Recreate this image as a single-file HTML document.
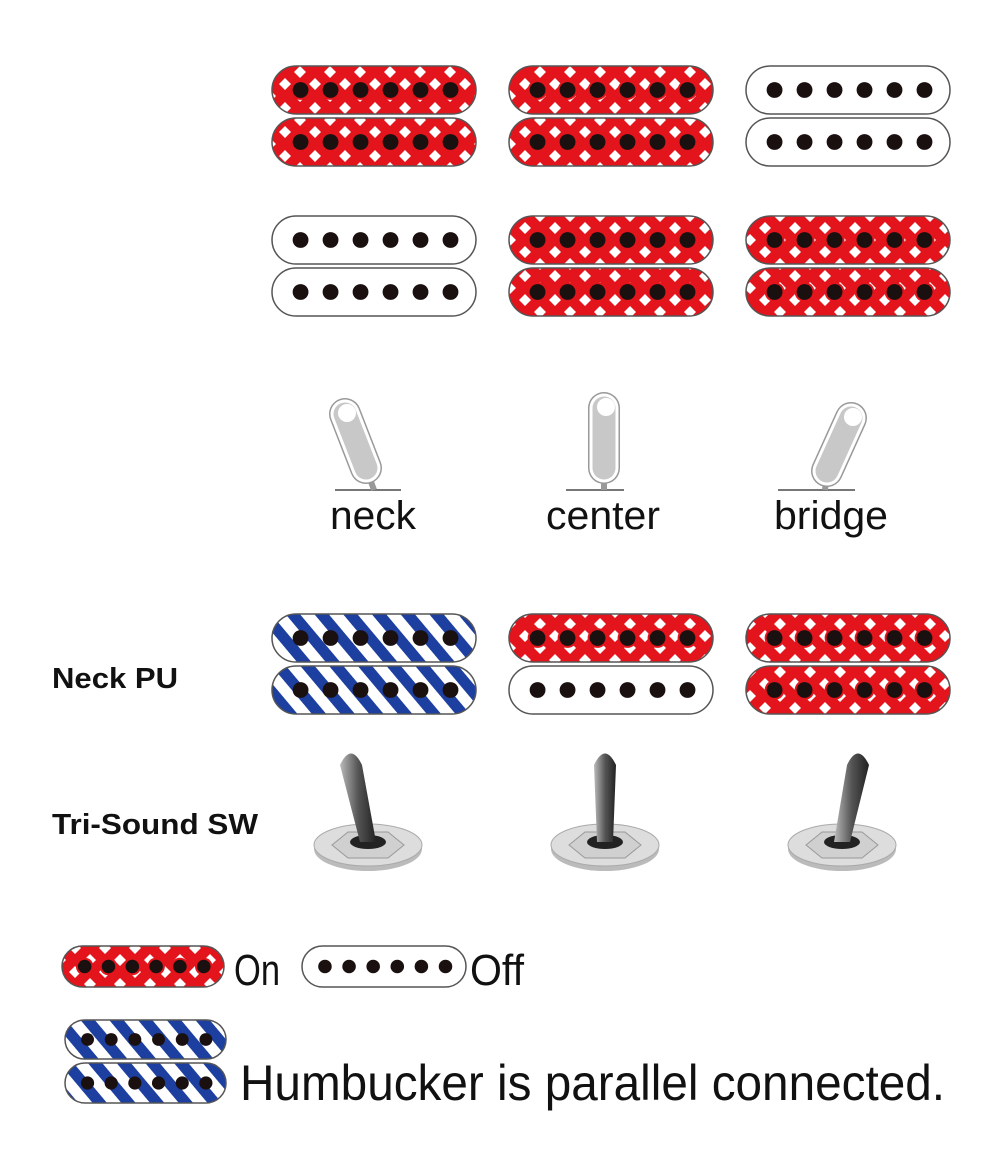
<!DOCTYPE html>
<html><head><meta charset="utf-8">
<style>
html,body{margin:0;padding:0;background:#fff;}
svg{display:block}
text{font-family:"Liberation Sans Narrow","Liberation Sans",sans-serif;fill:#111;}
</style></head>
<body>
<svg id="s" width="1004" height="1170" viewBox="0 0 1004 1170" xmlns="http://www.w3.org/2000/svg">
<defs>
<pattern id="red" patternUnits="userSpaceOnUse" width="30" height="24" x="0" y="0">
<rect width="30" height="24" fill="#e3141b"/>
<path d="M0 -6 L6 0 L0 6 L-6 0Z M30 -6 L36 0 L30 6 L24 0Z M0 18 L6 24 L0 30 L-6 24Z M30 18 L36 24 L30 30 L24 24Z M15 6 L21 12 L15 18 L9 12Z" fill="#fff"/>
</pattern>
<pattern id="blue" patternUnits="userSpaceOnUse" width="22" height="22" patternTransform="rotate(-40)">
<rect width="22" height="22" fill="#fff"/>
<rect width="11" height="22" fill="#1d3fa0"/>
</pattern>
<linearGradient id="lev" x1="0" x2="1" y1="0" y2="0">
<stop offset="0" stop-color="#bbb"/><stop offset="0.5" stop-color="#555"/><stop offset="1" stop-color="#222"/>
</linearGradient>
</defs>
<g id="g"></g>
<text x="330" y="529" font-size="40" textLength="86" lengthAdjust="spacingAndGlyphs">neck</text>
<text x="546" y="529" font-size="40" textLength="114" lengthAdjust="spacingAndGlyphs">center</text>
<text x="774" y="529" font-size="40" textLength="114" lengthAdjust="spacingAndGlyphs">bridge</text>
<text x="52" y="688" font-size="29" font-weight="bold" textLength="126" lengthAdjust="spacingAndGlyphs">Neck PU</text>
<text x="52" y="834" font-size="29" font-weight="bold" textLength="206" lengthAdjust="spacingAndGlyphs">Tri-Sound SW</text>
<text x="234" y="985" font-size="44" textLength="46" lengthAdjust="spacingAndGlyphs">On</text>
<text x="470" y="985" font-size="44" textLength="54" lengthAdjust="spacingAndGlyphs">Off</text>
<text x="240" y="1100" font-size="50" textLength="705" lengthAdjust="spacingAndGlyphs">Humbucker is parallel connected.</text>
</svg>
<script>
var g=document.getElementById('g'),h='';
function coil(x,y,w,hh,t){
  var r=hh/2,f=t=='r'?'url(#red)':t=='b'?'url(#blue)':'#fff';
  h+='<rect x="'+x+'" y="'+y+'" width="'+w+'" height="'+hh+'" rx="'+r+'" fill="'+f+'" stroke="#555" stroke-width="1.5"/>';
  var sp=w*0.147,st=x+w*0.14,dr=hh*0.165;
  for(var i=0;i<6;i++){var cx=st+i*sp;
    if(t=='r')h+='<circle cx="'+cx+'" cy="'+(y+r)+'" r="'+(dr+2)+'" fill="#e3141b"/>';
    h+='<circle cx="'+cx+'" cy="'+(y+r)+'" r="'+dr+'" fill="#1a1010"/>';}
}
function hb(x,y,t1,t2){coil(x,y,204,48,t1);coil(x,y+52,204,48,t2);}
var X=[272,509,746];
hb(X[0],66,'r','r');hb(X[1],66,'r','r');hb(X[2],66,'w','w');
hb(X[0],216,'w','w');hb(X[1],216,'r','r');hb(X[2],216,'r','r');
hb(X[0],614,'b','b');hb(X[1],614,'r','w');hb(X[2],614,'r','r');
coil(62,946,162,41,'r');coil(302,946,164,41,'w');
coil(65,1020,161,39,'b');coil(65,1063,161,40,'b');
function tog(bx,lx,x1,y1,x2,y2){
  h+='<line x1="'+lx[0]+'" y1="490" x2="'+lx[1]+'" y2="490" stroke="#777" stroke-width="2"/>';
  h+='<line x1="'+bx+'" y1="490" x2="'+x2+'" y2="'+y2+'" stroke="#999" stroke-width="6"/>';
  h+='<line x1="'+x1+'" y1="'+y1+'" x2="'+x2+'" y2="'+y2+'" stroke="#999" stroke-width="32" stroke-linecap="round"/>';
  h+='<line x1="'+x1+'" y1="'+y1+'" x2="'+x2+'" y2="'+y2+'" stroke="#fff" stroke-width="29" stroke-linecap="round"/>';
  h+='<line x1="'+x1+'" y1="'+y1+'" x2="'+x2+'" y2="'+y2+'" stroke="#c8c8c8" stroke-width="23" stroke-linecap="round"/>';
  h+='<circle cx="'+(x1+2)+'" cy="'+(y1-1)+'" r="9" fill="#fff"/>';
}
tog(374,[335,401],345,414,366,468);
tog(604,[566,624],604,408,604,468);
tog(825,[778,855],851,418,827,471);
function bs(cx,tx){
  var cy=845;
  h+='<ellipse cx="'+cx+'" cy="'+(cy+4)+'" rx="54" ry="22" fill="#bbb"/>';
  h+='<ellipse cx="'+cx+'" cy="'+cy+'" rx="54" ry="21" fill="#ddd" stroke="#aaa" stroke-width="1"/>';
  h+='<polygon points="'+(cx-36)+','+cy+' '+(cx-20)+','+(cy-13)+' '+(cx+20)+','+(cy-13)+' '+(cx+36)+','+cy+' '+(cx+20)+','+(cy+13)+' '+(cx-20)+','+(cy+13)+'" fill="#d0d0d0" stroke="#999"/>';
  h+='<ellipse cx="'+cx+'" cy="'+(cy-3)+'" rx="18" ry="7" fill="#222"/>';
  h+='<path d="M'+(cx-8)+' '+(cy-3)+' L'+(tx-11)+' 765 Q'+tx+' 742 '+(tx+11)+' 765 L'+(cx+8)+' '+(cy-3)+' Z" fill="url(#lev)"/>';
}
bs(368,351);bs(605,605);bs(842,858);
g.innerHTML=h;
</script>
</body></html>
